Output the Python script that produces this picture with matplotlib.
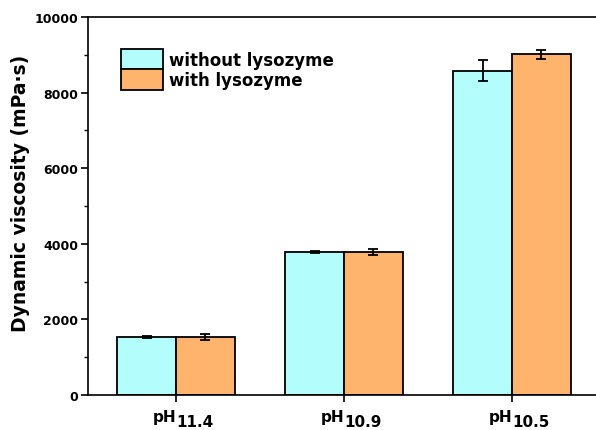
import numpy as np
import matplotlib
matplotlib.use('Agg')
import matplotlib.pyplot as plt
from matplotlib.patches import Patch
from matplotlib.ticker import MultipleLocator

plt.rcParams['font.family'] = 'DejaVu Sans'
plt.rcParams['font.weight'] = 'bold'

# data
groups = ['pH', 'pH', 'pH']
group_subs = ['11.4', '10.9', '10.5']
without_lys = [1530, 3780, 8580]
without_err = [20, 30, 285]
with_lys = [1525, 3790, 9010]
with_err = [80, 80, 120]
series_names = ['without lysozyme', 'with lysozyme']
c_cyan = '#B4FDFD'
c_orange = '#FEB46C'

fig = plt.figure(figsize=(5.96, 4.31), dpi=100)
ax = fig.add_axes([88/596, (431-396)/431, (600-88)/596, (396-18)/431])

x = np.arange(len(groups))
w = 0.35
ax.bar(x - w/2, without_lys, w, color=c_cyan, edgecolor='black', linewidth=1.3, zorder=2)
ax.bar(x + w/2, with_lys, w, color=c_orange, edgecolor='black', linewidth=1.3, zorder=2)
ax.errorbar(x - w/2, without_lys, yerr=without_err, fmt='none', ecolor='black',
            elinewidth=1.3, capsize=3.3, capthick=1.3, zorder=3)
ax.errorbar(x + w/2, with_lys, yerr=with_err, fmt='none', ecolor='black',
            elinewidth=1.3, capsize=3.3, capthick=1.3, zorder=3)

ax.set_xlim(-0.524, 2.524)
ax.set_ylim(0, 10000)
ax.set_xticks(x)
ax.set_xticklabels([])
# pH labels with large subscripts
for xi, g, s in zip(x, groups, group_subs):
    ax.annotate(g, xy=(xi, 0), xycoords=('data', 'axes fraction'), xytext=(0, -26),
                textcoords='offset pixels', ha='right', va='baseline',
                fontsize=11, fontweight='bold')
    ax.annotate(s, xy=(xi, 0), xycoords=('data', 'axes fraction'), xytext=(0, -31),
                textcoords='offset pixels', ha='left', va='baseline',
                fontsize=11, fontweight='bold')

ax.yaxis.set_major_locator(MultipleLocator(2000))
ax.yaxis.set_minor_locator(MultipleLocator(1000))
ax.tick_params(axis='y', which='major', direction='out', length=5, width=1.2, labelsize=9, pad=2)
ax.tick_params(axis='y', which='minor', direction='out', length=3, width=1.0)
ax.tick_params(axis='x', direction='out', length=5, width=1.2)
for s in ['left', 'bottom', 'top']:
    ax.spines[s].set_linewidth(1.2)
ax.spines['right'].set_visible(False)
ax.set_ylabel('Dynamic viscosity (mPa·s)', fontsize=13.5, fontweight='bold', labelpad=3)
ax.yaxis.label.set_y(0.536)

handles = [Patch(facecolor=c_cyan, edgecolor='black', linewidth=1.3),
           Patch(facecolor=c_orange, edgecolor='black', linewidth=1.3)]
ax.legend(handles, series_names, loc='upper left', bbox_to_anchor=(0.065, 0.915),
          frameon=False, fontsize=12, handlelength=2.5, handleheight=1.5,
          labelspacing=0.0, handletextpad=0.35, borderaxespad=0, borderpad=0)

fig.savefig('out.png', dpi=100)
